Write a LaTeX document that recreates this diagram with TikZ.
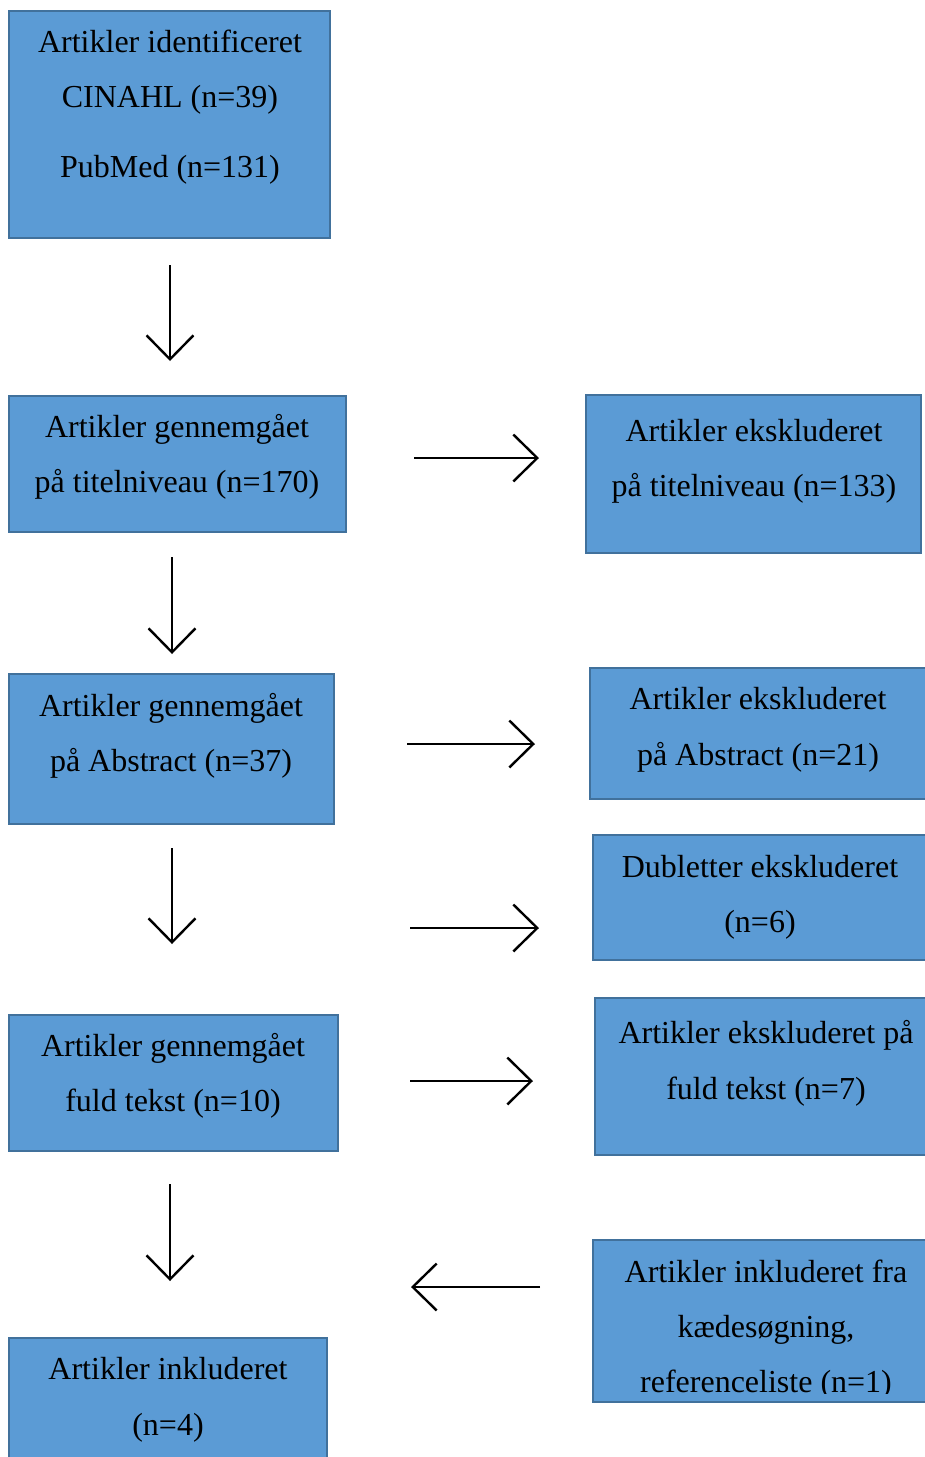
\documentclass[tikz,border=0pt]{standalone}
\usepackage{fontspec}
\setmainfont{Liberation Serif}
\usetikzlibrary{arrows.meta}
\definecolor{boxfill}{HTML}{5B9BD5}
\definecolor{boxline}{HTML}{41719C}
\begin{document}
\begin{tikzpicture}[x=1pt,y=-1pt,
  box/.style={draw=boxline,fill=boxfill,line width=2.2pt},
  txt/.style={anchor=base,inner sep=0pt,font=\fontsize{32}{38}\selectfont},
  flow/.style={line width=2.4pt,-{Straight Barb[length=24pt,width=47pt,line width=2.4pt]}}]
\useasboundingbox (0,0) rectangle (925,1457);
% boxes
\draw[box] (9,11) rectangle (330,238);
\node[txt] (t1a) at (170,52) {Artikler identificeret};
\node[txt] (t1b) at (170,107) {CINAHL (n=39)};
\node[txt] (t1c) at (170,177) {PubMed (n=131)};

\draw[box] (9,396) rectangle (346,532);
\node[txt] (t2a) at (177,437) {Artikler gennemgået};
\node[txt] (t2b) at (177,492) {på titelniveau (n=170)};

\draw[box] (586,395) rectangle (921,553);
\node[txt] (t3a) at (754,441) {Artikler ekskluderet};
\node[txt] (t3b) at (754,496) {på titelniveau (n=133)};

\draw[box] (9,674) rectangle (334,824);
\node[txt] (t4a) at (171,716) {Artikler gennemgået};
\node[txt] (t4b) at (171,771) {på Abstract (n=37)};

\draw[box] (590,668) rectangle (930,799);
\node[txt] (t5a) at (758,709) {Artikler ekskluderet};
\node[txt] (t5b) at (758,765) {på Abstract (n=21)};

\draw[box] (593,835) rectangle (930,960);
\node[txt] (t6a) at (760,877) {Dubletter ekskluderet};
\node[txt] (t6b) at (760,932) {(n=6)};

\draw[box] (9,1015) rectangle (338,1151);
\node[txt] (t7a) at (173,1056) {Artikler gennemgået};
\node[txt] (t7b) at (173,1111) {fuld tekst (n=10)};

\draw[box] (595,998) rectangle (930,1155);
\node[txt] (t8a) at (766,1043) {Artikler ekskluderet på};
\node[txt] (t8b) at (766,1099) {fuld tekst (n=7)};

\draw[box] (593,1240) rectangle (930,1402);
\node[txt] (t9a) at (766,1282) {Artikler inkluderet fra};
\node[txt] (t9b) at (766,1337) {kædesøgning,};
\begin{scope}
\clip (593,1240) rectangle (930,1393);
\node[txt] (t9c) at (766,1392) {referenceliste (n=1)};
\end{scope}

\draw[box] (9,1338) rectangle (327,1470);
\node[txt] (t10a) at (168,1379) {Artikler inkluderet};
\node[txt] (t10b) at (168,1435) {(n=4)};

% arrows
\coordinate (a1s) at (170,265); \coordinate (a1e) at (170,361);
\coordinate (a2s) at (172,557); \coordinate (a2e) at (172,654);
\coordinate (a3s) at (172,848); \coordinate (a3e) at (172,944);
\coordinate (a4s) at (170,1184); \coordinate (a4e) at (170,1281);
\coordinate (h1s) at (414,458); \coordinate (h1e) at (539,458);
\coordinate (h2s) at (407,744); \coordinate (h2e) at (535,744);
\coordinate (h3s) at (410,928); \coordinate (h3e) at (539,928);
\coordinate (h4s) at (410,1081); \coordinate (h4e) at (533,1081);
\coordinate (h5s) at (540,1287); \coordinate (h5e) at (411,1287);
\foreach \a in {a1,a2,a3,a4,h1,h2,h3,h4,h5}
  \draw[flow] (\a s) -- (\a e);
\end{tikzpicture}
\end{document}
